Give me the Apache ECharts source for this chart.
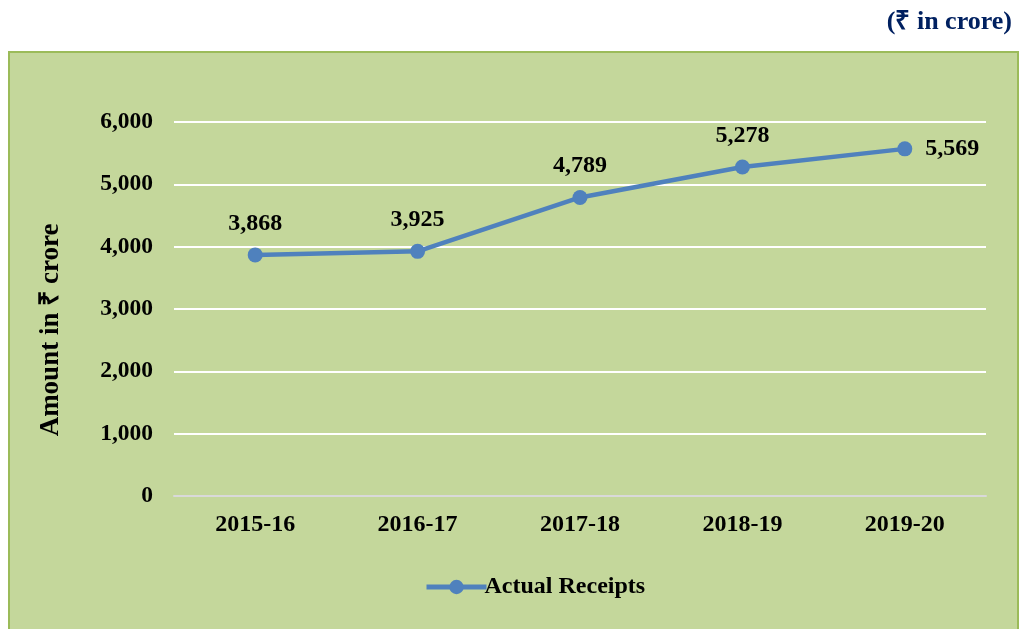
<!DOCTYPE html>
<html>
<head>
<meta charset="utf-8">
<script src="https://cdn.jsdelivr.net/npm/echarts@6/dist/echarts.min.js"></script>
<style>
html,body{margin:0;padding:0;background:#fff;}
#chart{width:1029px;height:629px;}
</style>
</head>
<body>
<div id="chart"></div>
<script>
const categories = ['2015-16', '2016-17', '2017-18', '2018-19', '2019-20'];
const actualReceipts = [3868, 3925, 4789, 5278, 5569];
const yTicks = [0, 1000, 2000, 3000, 4000, 5000, 6000];
const seriesName = 'Actual Receipts';
const unitNote = '(₹ in crore)';
const yAxisTitle = 'Amount in ₹ crore';

const FONT = '"Liberation Serif", "Times New Roman", serif';
const fmt = v => Number(v).toLocaleString('en-US');

const chart = echarts.init(document.getElementById('chart'), null, {renderer: 'canvas'});
const lastIdx = actualReceipts.length - 1;
chart.setOption({
  backgroundColor: '#ffffff',
  animation: false,
  graphic: [
    {type: 'rect', z: -10, shape: {x: 9, y: 52, width: 1009, height: 600},
     style: {fill: '#c4d79b', stroke: '#9bbb59', lineWidth: 2}},
    {type: 'text', right: 17, top: 9,
     style: {text: unitNote, font: 'bold 26px ' + FONT, fill: '#002060'}},
    {type: 'text', x: 51, y: 330, rotation: Math.PI / 2,
     style: {text: yAxisTitle, font: 'bold 27px ' + FONT, fill: '#000',
              textAlign: 'center', textVerticalAlign: 'middle'}}
  ],
  legend: {
    left: 419, top: 570,
    itemWidth: 60, itemHeight: 18, itemGap: 10,
    lineStyle: {width: 5},
    textStyle: {fontFamily: FONT, fontWeight: 'bold', fontSize: 24, color: '#000', padding: [0,0,0,-7]},
    data: [seriesName]
  },
  grid: {left: 174, right: 43, top: 122, bottom: 133, containLabel: false},
  xAxis: {
    type: 'category', data: categories, boundaryGap: true,
    axisLine: {show: true, lineStyle: {color: '#d9d9d9', width: 2}},
    axisTick: {show: false},
    axisLabel: {margin: 17, fontFamily: FONT, fontWeight: 'bold', fontSize: 24, color: '#000'}
  },
  yAxis: {
    type: 'value', min: yTicks[0], max: yTicks[yTicks.length - 1], interval: 1000,
    axisLine: {show: false}, axisTick: {show: false},
    splitLine: {lineStyle: {color: '#ffffff', width: 2}},
    axisLabel: {margin: 21, fontFamily: FONT, fontWeight: 'bold', fontSize: 23.5, color: '#000', formatter: fmt}
  },
  series: [{
    name: seriesName, type: 'line',
    data: actualReceipts.map((v, i) => i === lastIdx
      ? {value: v, label: {position: 'right', distance: 13}} : v),
    symbol: 'circle', symbolSize: 15,
    lineStyle: {color: '#4f81bd', width: 4.5},
    itemStyle: {color: '#4f81bd'},
    label: {
      show: true, position: 'top', distance: 12,
      fontFamily: FONT, fontWeight: 'bold', fontSize: 24, color: '#000',
      formatter: p => fmt(p.value)
    },
    emphasis: {disabled: true}
  }]
});
</script>
</body>
</html>
